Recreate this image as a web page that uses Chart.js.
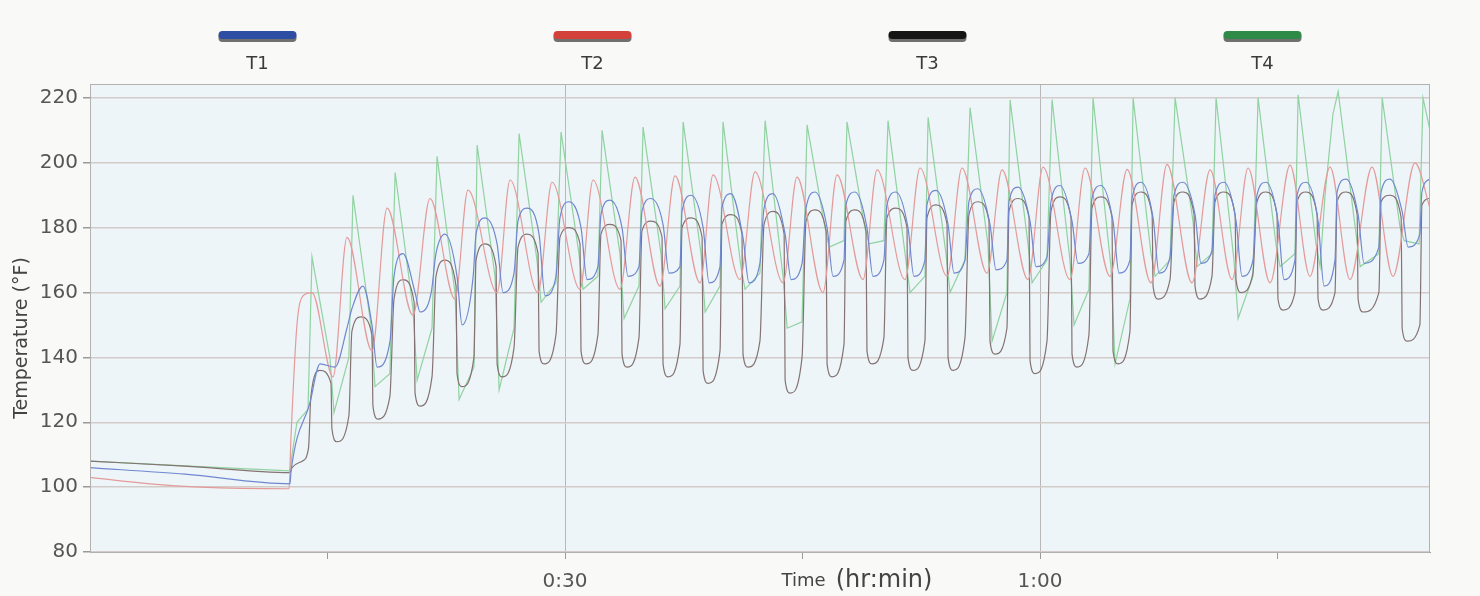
<!DOCTYPE html>
<html>
<head>
<meta charset="utf-8">
<title>Temperature log</title>
<script src="https://cdn.jsdelivr.net/npm/chart.js@4.4.1/dist/chart.umd.min.js"></script>
<style>
  html, body { margin: 0; padding: 0; background: #f9f9f7; }
  #wrap { width: 1480px; height: 596px; }
</style>
</head>
<body>
<div id="wrap"><canvas id="tempChart" width="1480" height="596"></canvas></div>
<script>
// series names + legend colours
var seriesNames = ["T1", "T2", "T3", "T4"];
var legendColors = ["#2d4ea3", "#d4403a", "#151515", "#2f8a48"];
var lineColors = ["#7087cf", "#e59a9a", "#857272", "#90d2a0"];

// axis ticks (minutes / degF)
var timeTicks = [15, 30, 45, 60, 75];
var timeLabels = { 30: "0:30", 60: "1:00" };
var tempTicks = [80, 100, 120, 140, 160, 180, 200, 220];

// T1 (blue)
var t1Time = [0, 6, 12.63, 12.7, 13.89, 14.53, 15.47, 16.23,
  16.54, 17.24, 17.81, 18.13, 18.95,
  19.20, 19.77, 20.53, 20.85, 21.55,
  21.85, 22.42, 23.18, 23.50, 24.20,
  24.38, 24.95, 25.71, 26.09, 26.78,
  27.03, 27.60, 28.36, 28.74, 29.43,
  29.68, 30.25, 31.01, 31.39, 32.08,
  32.27, 32.84, 33.60, 33.98, 34.67,
  34.86, 35.43, 36.19, 36.57, 37.26,
  37.39, 37.96, 38.72, 39.10, 39.79,
  39.91, 40.48, 41.24, 41.62, 42.31,
  42.57, 43.14, 43.90, 44.28, 44.97,
  45.22, 45.79, 46.55, 46.93, 47.62,
  47.74, 48.31, 49.07, 49.45, 50.14,
  50.33, 50.90, 51.66, 52.04, 52.73,
  52.86, 53.43, 54.19, 54.57, 55.26,
  55.51, 56.08, 56.84, 57.22, 57.91,
  58.04, 58.61, 59.37, 59.75, 60.44,
  60.69, 61.26, 62.02, 62.40, 63.09,
  63.28, 63.85, 64.61, 64.99, 65.68,
  65.81, 66.38, 67.14, 67.52, 68.21,
  68.46, 69.03, 69.79, 70.17, 70.86,
  71.05, 71.62, 72.38, 72.76, 73.45,
  73.70, 74.27, 75.03, 75.41, 76.10,
  76.23, 76.80, 77.56, 77.94, 78.63,
  78.76, 79.33, 80.09, 80.47, 81.40,
  81.54, 82.11, 82.87, 83.25, 83.99,
  84.12, 84.63];
var t1Temp = [106, 104, 101, 105, 126, 138, 137, 149,
  155, 162, 150, 137, 145,
  165, 172, 160, 154, 160,
  172, 178, 165, 150, 165,
  178, 183, 175, 160, 166,
  182, 186, 178, 159, 165,
  183, 188, 180, 164, 168,
  184, 188.5, 180, 165, 168,
  185, 189, 181, 166, 168,
  185, 190, 180, 163, 168,
  186, 190.5, 177, 163, 169,
  186, 190.5, 178, 164, 169,
  186, 191, 180, 165, 170,
  187, 191, 180, 165, 170,
  187, 191, 180, 165, 170,
  187, 191.5, 181, 166, 170,
  188, 192, 181, 167, 170,
  188, 192.5, 182, 168, 171,
  188, 193, 182, 169, 172,
  189, 193, 182, 166, 170,
  189, 194, 183, 166, 171,
  190, 194, 184, 169, 173,
  190, 194, 182, 165, 170,
  190, 194, 182, 164, 170,
  190, 194, 182, 162, 170,
  191, 195, 184, 169, 174,
  191, 195, 185, 174, 178,
  191, 195];

// T2 (red)
var t2Time = [0, 3.79, 6.95, 12.57, 12.69, 13.07, 13.45, 14.02,
  15.35, 16.23, 17.81, 18.76, 20.40, 21.47, 23.05, 23.87,
  25.71, 26.53, 28.29, 29.18, 30.95, 31.77, 33.47, 34.42,
  36.00, 36.95, 38.53, 39.35, 41.05, 42.00, 43.77, 44.65,
  46.29, 47.18, 48.82, 49.71, 51.47, 52.42, 54.13, 55.07,
  56.65, 57.60, 59.24, 60.19, 61.89, 62.84, 64.42, 65.50,
  67.01, 68.02, 69.60, 70.74, 72.13, 73.14, 74.53, 75.79,
  77.05, 78.32, 79.58, 80.97, 82.29, 83.68, 84.63];
var t2Temp = [103, 101, 100, 99.5, 115, 150, 159, 160,
  134, 177, 142, 186, 153, 189, 158, 191.6,
  160, 194.7, 160, 194, 161, 194.7, 161, 195.6,
  162, 196, 163, 196.3, 164, 197.2, 163, 195.6,
  160, 196.3, 164, 197.8, 164, 198.4, 165, 198.4,
  166, 197.8, 164, 198.7, 164, 198.4, 165, 198,
  163, 199.5, 163, 197.8, 164, 198.4, 163, 199.3,
  165, 198.7, 164, 198.7, 165, 200, 186];

// T3 (black)
var t3Time = [0, 6, 12.63, 12.76, 13.4, 13.8,
  13.95, 14.52, 15.22, 15.28, 15.60, 16.35,
  16.54, 17.11, 17.81, 17.87, 18.19, 18.94,
  19.20, 19.77, 20.47, 20.53, 20.85, 21.60,
  21.85, 22.42, 23.12, 23.18, 23.50, 24.25,
  24.38, 24.95, 25.65, 25.71, 26.03, 26.78,
  27.03, 27.60, 28.30, 28.36, 28.68, 29.43,
  29.68, 30.25, 30.95, 31.01, 31.33, 32.08,
  32.27, 32.84, 33.54, 33.60, 33.92, 34.67,
  34.86, 35.43, 36.13, 36.19, 36.51, 37.26,
  37.39, 37.96, 38.66, 38.72, 39.04, 39.79,
  39.91, 40.48, 41.18, 41.24, 41.56, 42.31,
  42.57, 43.14, 43.84, 43.90, 44.22, 44.97,
  45.22, 45.79, 46.49, 46.55, 46.87, 47.62,
  47.74, 48.31, 49.01, 49.07, 49.39, 50.14,
  50.33, 50.90, 51.60, 51.66, 51.98, 52.73,
  52.86, 53.43, 54.13, 54.19, 54.51, 55.26,
  55.51, 56.08, 56.78, 56.84, 57.16, 57.91,
  58.04, 58.61, 59.31, 59.37, 59.69, 60.44,
  60.69, 61.26, 61.96, 62.02, 62.34, 63.09,
  63.28, 63.85, 64.55, 64.61, 64.93, 65.68,
  65.81, 66.38, 67.08, 67.14, 67.46, 68.21,
  68.46, 69.03, 69.73, 69.79, 70.11, 70.86,
  71.05, 71.62, 72.32, 72.38, 72.70, 73.45,
  73.70, 74.27, 74.97, 75.03, 75.35, 76.10,
  76.23, 76.80, 77.50, 77.56, 77.88, 78.63,
  78.76, 79.33, 80.03, 80.09, 80.41, 81.40,
  81.54, 82.11, 82.81, 82.87, 83.19, 83.99,
  84.12, 84.63];
var t3Temp = [108, 106.5, 104.5, 106, 108, 112,
  128, 136, 132, 118, 114, 122,
  148, 152.5, 147, 125, 121, 128,
  158, 164, 157, 129, 125, 134,
  165, 170, 162, 135, 131, 140,
  170, 175, 168, 138, 134, 143,
  174, 178, 172, 142, 138, 147,
  177, 180, 175, 142, 138, 147,
  178, 181, 176, 141, 137, 146,
  179, 182, 177, 138, 134, 144,
  180, 183, 177, 136, 132, 142,
  181, 184, 178, 141, 137, 145,
  181, 185, 178, 133, 129, 140,
  182, 185.5, 179, 138, 134, 144,
  182, 185.5, 179, 142, 138, 146,
  183, 186, 180, 140, 136, 145,
  183, 187, 181, 140, 136, 146,
  184, 188, 182, 145, 141, 149,
  185, 189, 183, 139, 135, 145,
  185, 189.5, 183, 141, 137, 147,
  186, 189.5, 183, 142, 138, 148,
  187, 191, 184, 162, 158, 164,
  188, 191, 184, 162, 158, 165,
  188, 191, 184, 164, 160, 166,
  188, 191, 184, 158, 154.6, 160,
  188, 191, 184, 158, 154.6, 160,
  188, 191, 184, 158, 154, 160,
  188, 190, 183, 149, 145, 150,
  187, 189];

// T4 (green)
var t4Time = [0, 6.3, 12.63, 12.76, 13.07, 13.77,
  14.02, 15.15, 15.41, 16.35,
  16.61, 17.74, 18.00, 18.94,
  19.27, 20.40, 20.66, 21.60,
  21.92, 23.05, 23.31, 24.25,
  24.45, 25.58, 25.84, 26.78,
  27.10, 28.23, 28.49, 29.43,
  29.75, 30.88, 31.14, 32.08,
  32.34, 33.47, 33.73, 34.67,
  34.93, 36.06, 36.32, 37.26,
  37.46, 38.59, 38.85, 39.79,
  39.98, 41.11, 41.37, 42.31,
  42.64, 43.77, 44.03, 44.97,
  45.29, 46.42, 46.68, 47.62,
  47.81, 48.94, 49.20, 50.14,
  50.40, 51.53, 51.79, 52.73,
  52.93, 54.06, 54.32, 55.26,
  55.58, 56.71, 56.97, 57.91,
  58.11, 59.24, 59.50, 60.44,
  60.76, 61.89, 62.15, 63.09,
  63.35, 64.48, 64.74, 65.68,
  65.88, 67.01, 67.27, 68.21,
  68.53, 69.66, 69.92, 70.86,
  71.12, 72.25, 72.51, 73.45,
  73.77, 74.90, 75.16, 76.10,
  76.30, 77.43, 77.69, 78.00, 78.50,
  78.83, 79.96, 80.22, 81.40,
  81.61, 82.74, 83.00, 83.94,
  84.19, 84.63];
var t4Temp = [108, 106.5, 105, 110, 120, 124,
  171, 140, 123, 140,
  190, 150, 131, 135,
  197, 155, 133, 149,
  202, 160, 127, 137,
  205.5, 165, 130, 149,
  209, 170, 157, 163,
  209.5, 172, 161, 165,
  210, 172, 152, 162,
  211, 172, 155, 162,
  212.6, 172, 154, 162,
  212.6, 168, 161, 166,
  213, 165, 149, 151,
  211.7, 180, 174, 176,
  212.6, 180, 175, 176,
  213, 170, 160, 165,
  214, 172, 160, 170,
  217, 175, 145, 160,
  219.4, 175, 163, 170,
  219.5, 170, 150, 161,
  220, 168, 138, 158,
  220, 172, 165, 170,
  220, 182, 168, 172,
  220, 170, 152, 165,
  220, 175, 168, 172,
  221, 175, 168, 190, 215,
  222, 178, 168, 172,
  220, 180, 176, 175,
  220, 210];

var seriesTimes = [t1Time, t2Time, t3Time, t4Time];
var seriesTemps = [t1Temp, t2Temp, t3Temp, t4Temp];

function toPoints(times, temps) {
  var pts = [];
  for (var i = 0; i < times.length; i++) {
    pts.push({ x: times[i], y: temps[i] });
  }
  return pts;
}

var FONT = "'DejaVu Sans', Verdana, sans-serif";

// background, frame, legend and axis titles
var framePlugin = {
  id: "frame",
  beforeDraw: function (chart) {
    var a = chart.chartArea;
    var c = chart.ctx;
    c.save();
    c.fillStyle = "#f9f9f7";
    c.fillRect(0, 0, chart.width, chart.height);
    c.fillStyle = "#edf5f8";
    c.fillRect(a.left, a.top, a.right - a.left, a.bottom - a.top);
    c.restore();
  },
  afterDraw: function (chart) {
    var a = chart.chartArea;
    var c = chart.ctx;
    c.save();
    c.strokeStyle = "#b4b0ae";
    c.lineWidth = 1;
    c.strokeRect(a.left + 0.5, a.top + 0.5, a.right - a.left - 1, a.bottom - a.top);

    // legend: swatch above label, one per quarter of the plot width
    var w = (a.right - a.left) / seriesNames.length;
    for (var i = 0; i < seriesNames.length; i++) {
      var cx = a.left + w * (i + 0.5);
      c.fillStyle = "rgba(0,0,0,0.55)";
      c.beginPath();
      c.roundRect(cx - 39, 33, 78, 9, 4);
      c.fill();
      c.fillStyle = legendColors[i];
      c.beginPath();
      c.roundRect(cx - 39, 31, 78, 8, 4);
      c.fill();
      c.fillStyle = "#3a3a3a";
      c.font = "18px " + FONT;
      c.textAlign = "center";
      c.textBaseline = "middle";
      c.fillText(seriesNames[i], cx, 64);
    }

    // y title
    c.save();
    c.translate(22, 338);
    c.rotate(-Math.PI / 2);
    c.fillStyle = "#444";
    c.font = "19px " + FONT;
    c.textAlign = "center";
    c.textBaseline = "middle";
    c.fillText("Temperature (\u00B0F)", 0, 0);
    c.restore();

    // x title, two sizes as in the source
    var part1 = "Time";
    var part2 = "(hr:min)";
    c.font = "18px " + FONT;
    var w1 = c.measureText(part1).width;
    c.font = "24px " + FONT;
    var w2 = c.measureText(part2).width;
    var gap = 10;
    var startX = 857 - (w1 + gap + w2) / 2;
    c.textAlign = "left";
    c.textBaseline = "alphabetic";
    c.fillStyle = "#444";
    c.font = "18px " + FONT;
    c.fillText(part1, startX, 586);
    c.font = "24px " + FONT;
    c.fillText(part2, startX + w1 + gap, 587);
    c.restore();
  }
};

window.onload = function () {
  var ctx = document.getElementById("tempChart").getContext("2d");
  var datasets = [];
  for (var i = 0; i < seriesNames.length; i++) {
    datasets.push({
      label: seriesNames[i],
      data: toPoints(seriesTimes[i], seriesTemps[i]),
      showLine: true,
      borderColor: lineColors[i],
      backgroundColor: lineColors[i],
      borderWidth: 1.2,
      pointRadius: 0,
      fill: false,
      cubicInterpolationMode: i === 3 ? "default" : "monotone",
      tension: 0,
    });
  }

  var tempChart = new Chart(ctx, {
    type: "scatter",
    data: { datasets: datasets },
    plugins: [framePlugin],
    options: {
      responsive: false,
      animation: false,
      devicePixelRatio: 1,
      layout: { padding: { top: 84, right: 50, left: 0, bottom: 0 } },
      plugins: {
        legend: { display: false },
        tooltip: { enabled: false },
      },
      scales: {
        x: {
          type: "linear",
          min: 0,
          max: 84.63,
          afterBuildTicks: function (scale) {
            scale.ticks = timeTicks.map(function (v) { return { value: v }; });
          },
          afterFit: function (scale) { scale.height = 44; },
          ticks: {
            autoSkip: false,
            maxRotation: 0,
            padding: 11,
            color: "#555",
            font: { family: FONT, size: 20 },
            callback: function (value) { return timeLabels[value] || ""; },
          },
          grid: {
            color: function (c) {
              if (c.tick && timeLabels[c.tick.value]) return "#b8b8b8";
              return "rgba(0,0,0,0)";
            },
            tickColor: "#9a9a9a",
            tickLength: 7,
          },
          border: { color: "#9a9a9a" },
        },
        y: {
          min: 80,
          max: 224.3,
          afterBuildTicks: function (scale) {
            scale.ticks = tempTicks.map(function (v) { return { value: v }; });
          },
          afterFit: function (scale) { scale.width = 90; },
          ticks: {
            padding: 5,
            color: "#555",
            font: { family: FONT, size: 20 },
          },
          grid: {
            color: "#d3cbca",
            lineWidth: 1.5,
            tickColor: "#9a9a9a",
            tickLength: 7,
          },
          border: { color: "#9a9a9a" },
        },
      },
    },
  });
};
</script>
</body>
</html>
